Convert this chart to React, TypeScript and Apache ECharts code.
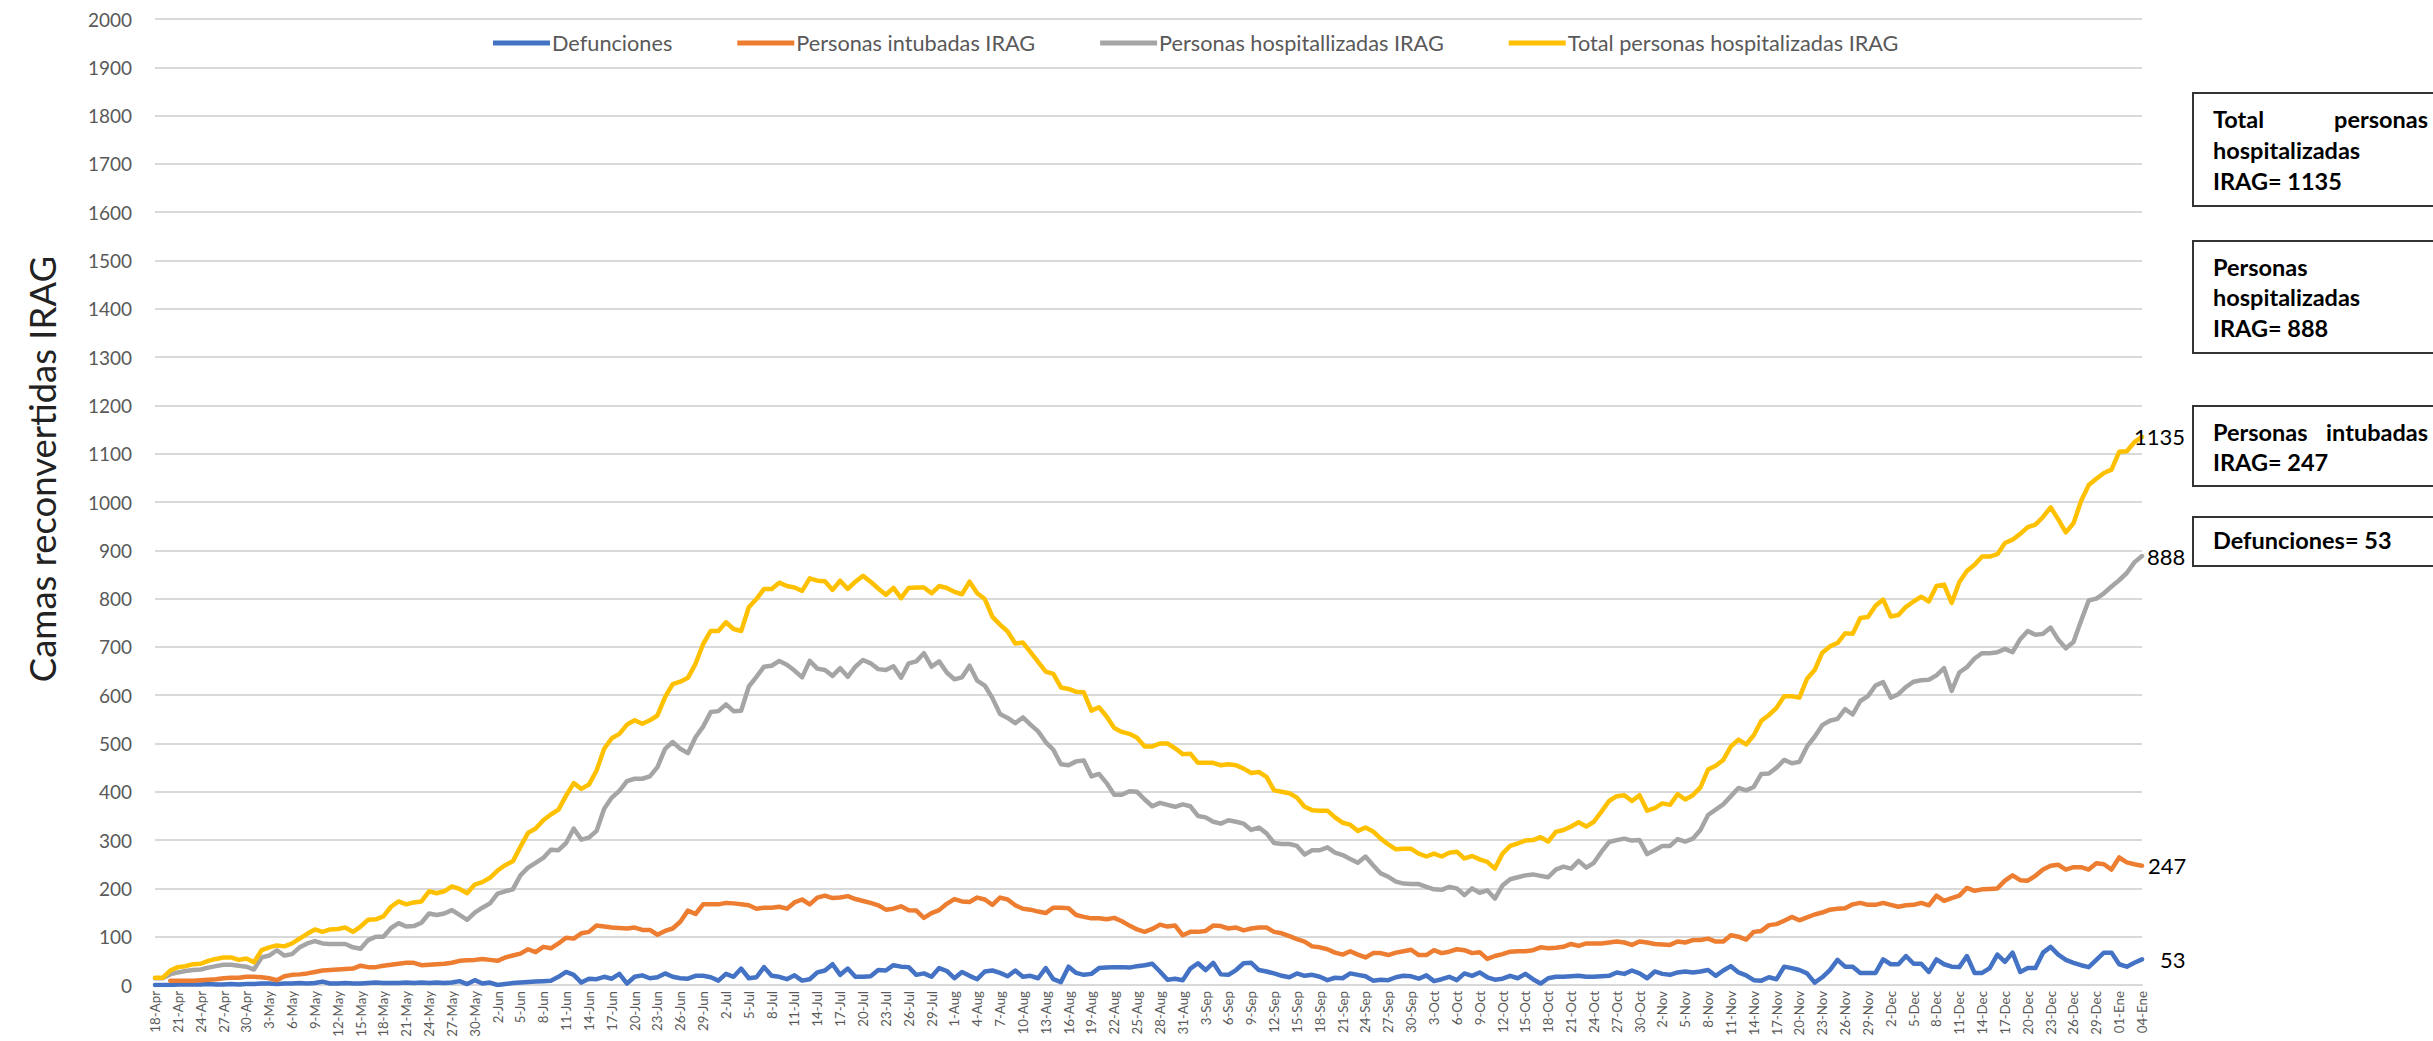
import React, { useEffect, useRef } from "react";
import * as echarts from "echarts";

// ---------- DATA ----------
const START_YEAR = 2020;
const START_MONTH = 3; // April (0-based)
const START_DAY = 18;
const MONTHS = ["Jan", "Feb", "Mar", "Apr", "May", "Jun", "Jul", "Aug", "Sep", "Oct", "Nov", "Dec"];
const JAN_LABEL = "Ene";

const defunciones: number[] = [
  0, 0, 0, 1, 1, 1, 1, 2, 1, 1, 2, 1, 2, 2, 3, 3, 2, 3, 3, 4, 3, 4, 7, 3, 3, 4, 3, 3, 4, 5, 4, 4, 4, 5, 4, 5, 4, 5, 4, 5, 8, 2, 10,
  3, 5, 0, 2, 4, 5, 6, 7, 8, 9, 17, 27, 21, 5, 13, 12, 17, 13, 23, 3, 17, 20, 14, 16, 24, 17, 14, 13, 19, 19, 16, 9, 23, 17, 34, 14, 16, 37, 19, 17, 12, 20, 9, 12, 26, 30, 43,
  21, 34, 17, 17, 18, 31, 30, 41, 38, 37, 21, 24, 17, 35, 29, 14, 27, 19, 12, 28, 30, 25, 18, 30, 17, 19, 14, 35, 12, 6, 38, 25, 21, 23, 35, 36, 37, 37, 36, 39, 41, 44, 28, 11,
  13, 10, 34, 45, 31, 46, 22, 21, 31, 45, 46, 31, 28, 24, 19, 16, 24, 19, 21, 17, 10, 15, 14, 24, 21, 18, 9, 11, 10, 16, 19, 18, 13, 20, 8, 12, 17, 10, 24, 19, 26, 16, 11, 13,
  19, 14, 23, 12, 3, 14, 17, 17, 18, 19, 17, 17, 18, 19, 26, 23, 30, 24, 14, 28, 23, 21, 26, 28, 26, 28, 31, 19, 30, 39, 26, 20, 10, 9, 16, 12, 38, 35, 31, 24, 5, 16, 31, 52,
  38, 38, 25, 25, 25, 53, 43, 43, 60, 44, 44, 27, 53, 43, 38, 37, 60, 25, 25, 35, 63, 48, 67, 27, 35, 35, 67, 79, 63, 52, 46, 41, 37, 52, 67, 67, 43, 38, 46, 53,
];

const intubadas: (number | null)[] = [
  null, null, 9, 9, 9, 9, 10, 11, 12, 14, 15, 15, 17, 17, 16, 14, 10, 18, 21, 22, 24, 27, 30, 31, 32, 33, 34, 40, 37, 37, 40, 42, 44, 46, 46, 41, 42, 43, 44, 46, 50, 51, 52,
  54, 52, 50, 57, 61, 65, 74, 68, 79, 76, 86, 98, 96, 107, 110, 123, 121, 119, 118, 117, 119, 114, 114, 104, 112, 117, 131, 154, 147, 167, 167, 167, 170, 169, 167, 165, 158, 160, 160, 162, 158, 171, 177, 167, 181, 185, 180,
  181, 184, 178, 174, 170, 165, 156, 158, 163, 155, 154, 139, 149, 155, 168, 178, 173, 172, 181, 177, 166, 181, 177, 165, 158, 156, 152, 149, 160, 160, 159, 145, 141, 138, 138, 136, 139, 132, 123, 115, 110, 116, 125, 121,
  123, 103, 110, 110, 112, 123, 122, 117, 119, 113, 117, 119, 119, 110, 107, 101, 95, 90, 80, 78, 74, 67, 63, 70, 63, 57, 66, 66, 62, 67, 70, 73, 62, 62, 72, 66, 69, 74, 72, 66, 68, 54, 60, 64,
  69, 70, 70, 72, 78, 76, 77, 79, 85, 81, 86, 86, 86, 88, 90, 88, 83, 90, 88, 85, 84, 83, 90, 88, 93, 93, 96, 90, 90, 103, 100, 94, 110, 112, 124, 126, 133, 141, 134, 140, 146, 150, 156, 158,
  159, 167, 170, 166, 166, 170, 166, 162, 165, 166, 170, 165, 185, 174, 180, 185, 201, 195, 198, 199, 200, 216, 227, 217, 216, 226, 239, 247, 249, 239, 244, 244, 239, 252, 250, 239, 264, 254, 250, 247,
];

const hospitalizadas: number[] = [
  14, 14, 22, 26, 29, 31, 32, 36, 39, 42, 42, 40, 38, 32, 57, 61, 72, 61, 64, 78, 86, 91, 86, 85, 85, 85, 78, 75, 93, 100, 100, 118, 128, 121, 122, 129, 148, 145, 148, 155, 145, 135, 150,
  160, 169, 189, 194, 198, 227, 243, 253, 263, 280, 279, 294, 324, 301, 305, 319, 365, 388, 402, 422, 427, 427, 432, 451, 489, 503, 489, 480, 513, 535, 565, 567, 581, 567, 568, 618, 638, 659, 661, 671, 663, 651, 637, 671, 655, 652, 640,
  656, 638, 659, 673, 666, 654, 652, 660, 636, 666, 670, 687, 659, 670, 647, 633, 637, 661, 630, 620, 594, 561, 553, 542, 554, 539, 525, 503, 487, 457, 455, 463, 465, 432, 437, 418, 394, 394, 401, 400, 384, 370, 377, 373,
  369, 374, 370, 350, 347, 338, 334, 341, 338, 334, 321, 326, 314, 294, 292, 292, 288, 270, 279, 279, 285, 274, 269, 261, 253, 266, 248, 231, 224, 214, 210, 209, 209, 203, 198, 197, 203, 200, 186, 200, 191, 196, 179, 206,
  219, 223, 227, 229, 226, 223, 239, 245, 241, 257, 243, 253, 276, 296, 300, 303, 299, 300, 271, 279, 288, 288, 302, 297, 303, 321, 352, 363, 374, 391, 408, 403, 410, 437, 438, 450, 466, 459, 462, 494, 514, 538, 547, 551,
  571, 560, 588, 598, 620, 627, 595, 602, 617, 628, 631, 632, 641, 656, 609, 647, 658, 676, 687, 687, 689, 696, 689, 716, 733, 725, 727, 740, 715, 697, 710, 754, 796, 800, 811, 825, 838, 853, 875, 888,
];

const totalHospitalizadas: number[] = [
  15, 15, 30, 37, 39, 43, 44, 50, 54, 57, 57, 52, 55, 47, 72, 78, 82, 80, 86, 96, 106, 115, 110, 115, 116, 119, 110, 121, 135, 136, 142, 162, 173, 167, 171, 173, 194, 190, 194, 204, 199, 190, 208,
  213, 222, 237, 248, 256, 286, 315, 324, 341, 353, 363, 392, 418, 406, 415, 444, 489, 511, 520, 539, 548, 541, 548, 558, 596, 623, 628, 636, 665, 706, 733, 733, 751, 737, 733, 782, 799, 820, 820, 833, 826, 823, 816, 842, 837, 836, 818,
  837, 820, 835, 847, 835, 821, 808, 822, 801, 822, 823, 823, 811, 826, 822, 814, 809, 835, 811, 799, 762, 746, 732, 707, 709, 689, 669, 649, 644, 616, 613, 607, 606, 568, 575, 556, 532, 524, 520, 512, 494, 494, 500, 500,
  490, 478, 479, 460, 460, 460, 455, 457, 455, 448, 439, 441, 431, 403, 400, 397, 388, 369, 362, 361, 361, 347, 336, 332, 319, 326, 318, 303, 291, 281, 282, 282, 272, 266, 272, 266, 274, 276, 262, 267, 260, 255, 241, 272,
  288, 293, 299, 300, 306, 297, 317, 321, 328, 337, 328, 338, 359, 381, 391, 393, 381, 393, 361, 366, 376, 373, 395, 384, 393, 409, 446, 454, 466, 494, 508, 498, 517, 547, 559, 574, 598, 598, 595, 634, 652, 688, 701, 708,
  728, 727, 760, 762, 785, 798, 763, 766, 783, 794, 804, 794, 826, 829, 791, 834, 857, 870, 887, 887, 892, 915, 922, 934, 948, 953, 969, 989, 964, 937, 956, 1002, 1035, 1048, 1060, 1067, 1104, 1105, 1124, 1135,
];

const seriesNames = [
  "Defunciones",
  "Personas intubadas IRAG",
  "Personas hospitallizadas IRAG",
  "Total personas hospitalizadas IRAG",
];
const seriesColors = ["#4472C4", "#ED7D31", "#A5A5A5", "#FFC000"];
const yTickMin = 0;
const yTickMax = 2000;
const yTickStep = 100;
const yAxisTitle = "Camas reconvertidas IRAG";

const boxTexts = {
  total: ["Total", "personas", "hospitalizadas", "IRAG= 1135"],
  hosp: ["Personas", "hospitalizadas", "IRAG= 888"],
  intub: ["Personas", "intubadas", "IRAG= 247"],
  def: ["Defunciones= 53"],
};

function buildCategories(n: number): string[] {
  const out: string[] = [];
  const start = Date.UTC(START_YEAR, START_MONTH, START_DAY);
  for (let i = 0; i < n; i++) {
    const d = new Date(start + i * 86400000);
    const day = d.getUTCDate();
    if (d.getUTCFullYear() > START_YEAR) {
      out.push(`${String(day).padStart(2, "0")}-${JAN_LABEL}`);
    } else {
      out.push(`${day}-${MONTHS[d.getUTCMonth()]}`);
    }
  }
  return out;
}

const categories = buildCategories(defunciones.length);

export default function App() {
  const ref = useRef<HTMLDivElement>(null);

  useEffect(() => {
    if (!ref.current) return;
    const chart = echarts.init(ref.current, undefined, { renderer: "svg" });
    const FONT = "Lato, 'Open Sans', sans-serif";
    const dataSets = [defunciones, intubadas, hospitalizadas, totalHospitalizadas];
    const labelDist = [18, 6, 5, 2];
    const labelOffset = [[0, 0], [0, 0], [0, 0], [-10, 0]];

    const boxFont = `bold 23.5px ${FONT}`;
    const txt = (x: number, y: number, text: string, align: string = "left") => ({
      type: "text",
      x,
      y,
      z: 10,
      style: { text, font: boxFont, fill: "#000", align, verticalAlign: "middle" },
    });
    const rect = (y: number, h: number) => ({
      type: "rect",
      z: 9,
      shape: { x: 2193, y, width: 270, height: h },
      style: { fill: "#fff", stroke: "#333", lineWidth: 2 },
    });

    const option: any = {
      animation: false,
      backgroundColor: "#ffffff",
      textStyle: { fontFamily: FONT },
      legend: {
        top: 27,
        left: 488,
        icon: "rect",
        itemWidth: 57,
        itemHeight: 5,
        itemGap: 65,
        textStyle: { fontSize: 21.7, color: "#595959", fontFamily: FONT, padding: [0, 0, 0, -3] },
        data: seriesNames,
      },
      grid: { left: 155, right: 291, top: 19, bottom: 56, containLabel: false, outerBoundsMode: "none" },
      xAxis: {
        type: "category",
        data: categories,
        boundaryGap: false,
        axisTick: { show: false },
        axisLine: { lineStyle: { color: "#D9D9D9", width: 2 } },
        axisLabel: { interval: 2, rotate: 90, fontSize: 13.3, color: "#595959", margin: 6, fontFamily: FONT },
        splitLine: { show: false },
      },
      yAxis: {
        type: "value",
        min: yTickMin,
        max: yTickMax,
        interval: yTickStep,
        axisLine: { show: false },
        axisTick: { show: false },
        axisLabel: {
          fontSize: 19,
          color: "#595959",
          margin: 23,
          fontFamily: FONT,
          formatter: (v: number) => String(v),
        },
        splitLine: { lineStyle: { color: "#D9D9D9", width: 2 } },
      },
      series: seriesNames.map((name, k) => ({
        name,
        type: "line",
        data: dataSets[k],
        showSymbol: false,
        symbol: "none",
        connectNulls: false,
        color: seriesColors[k],
        lineStyle: { width: 4.5, color: seriesColors[k], cap: "round", join: "round" },
        z: 2 + k,
        endLabel: {
          show: true,
          formatter: (p: any) => String(p.value),
          fontSize: 22,
          color: "#000",
          distance: labelDist[k],
          offset: labelOffset[k],
          fontFamily: FONT,
        },
      })),
      graphic: [
        {
          type: "text",
          x: 42,
          y: 469,
          rotation: Math.PI / 2,
          style: {
            text: yAxisTitle,
            font: `36.5px ${FONT}`,
            fill: "#222",
            align: "center",
            verticalAlign: "middle",
          },
        },
        rect(93, 113),
        txt(2213, 119, boxTexts.total[0]),
        txt(2428, 119, boxTexts.total[1], "right"),
        txt(2213, 150, boxTexts.total[2]),
        txt(2213, 181, boxTexts.total[3]),
        rect(241, 112),
        txt(2213, 267, boxTexts.hosp[0]),
        txt(2213, 297, boxTexts.hosp[1]),
        txt(2213, 328, boxTexts.hosp[2]),
        rect(406, 80),
        txt(2213, 432, boxTexts.intub[0]),
        txt(2428, 432, boxTexts.intub[1], "right"),
        txt(2213, 462, boxTexts.intub[2]),
        rect(517, 49),
        txt(2213, 540, boxTexts.def[0]),
      ],
    };

    chart.setOption(option);
    return () => chart.dispose();
  }, []);

  return (
    <div
      ref={ref}
      style={{ position: "fixed", left: 0, top: 0, width: 2433, height: 1041, background: "#fff" }}
    />
  );
}
